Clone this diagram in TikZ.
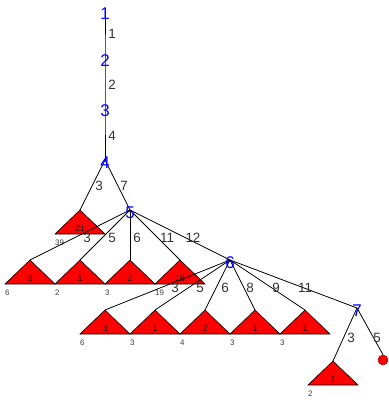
\documentclass[tikz,border=0pt]{standalone}
\usepackage{fontspec}
\setmainfont{Liberation Sans}
\begin{document}
\begin{tikzpicture}[x=1bp,y=-1bp,
  edge/.style={draw=black,line width=0.8bp},
  nlab/.style={text=blue,font=\fontsize{17}{17}\selectfont,inner sep=0pt},
  elab/.style={text=black!80,font=\fontsize{13.5}{13.5}\selectfont,inner sep=0pt},
  tlab/.style={text=black!90,font=\fontsize{9}{9}\selectfont,inner sep=0pt},
  blab/.style={text=black!75,font=\fontsize{8}{8}\selectfont,inner sep=0pt,anchor=west},
  tri/.style={fill=red,draw=black,line width=0.6bp,line join=miter}]
\useasboundingbox (0,0) rectangle (389,400);
% junction points
\coordinate (n1) at (105,8);
\coordinate (n2) at (105,60);
\coordinate (n3) at (105,110);
\coordinate (n4) at (105,160);
\coordinate (n5) at (130,210);
\coordinate (n6) at (230,260);
\coordinate (n7) at (357,308);
% triangle apexes
\coordinate (a21) at (80,210);
\coordinate (b1) at (30,260);
\coordinate (b2) at (80,260);
\coordinate (b3) at (130,260);
\coordinate (b4) at (180,260);
\coordinate (c1) at (105,310);
\coordinate (c2) at (155,310);
\coordinate (c3) at (205,310);
\coordinate (c4) at (255,310);
\coordinate (c5) at (305,310);
\coordinate (d1) at (333,361);
\coordinate (leaf) at (383,360);
% triangles
\foreach \a/\t/\b/\n in {a21/21/39/tA,b1/3/6/tB1,b2/1/2/tB2,b3/2/3/tB3,b4/18/19/tB4,c1/3/6/tC1,c2/1/3/tC2,c3/2/4/tC3,c4/1/3/tC4,c5/1/3/tC5,d1/1/2/tD}{
  \path[tri] (\a) -- ++(-25,24) -- ++(50,0) -- cycle;
  \node[tlab] (\n) at ([yshift=-18bp]\a) {\t};
  \node[blab] (\n b) at ([xshift=-25bp,yshift=-33bp]\a) {\b};
}
% edges
\draw[edge] (n1) -- (n2) -- (n3) -- (n4);
\draw[edge] (n4) -- (a21);
\draw[edge] (n4) -- (n5);
\foreach \t in {b1,b2,b3,b4,n6} \draw[edge] (n5) -- (\t);
\foreach \t in {c1,c2,c3,c4,c5,n7} \draw[edge] (n6) -- (\t);
\draw[edge] (n7) -- (d1);
\node[circle,fill=red,draw=red!60!black,line width=0.5bp,minimum size=10bp,inner sep=0pt] (lf) at (leaf) {};
\draw[edge] (n7) -- (lf.north);
% node labels
\node[nlab] (l1) at ([yshift=-6bp]n1) {1};
\node[nlab] (l2) at ([yshift=-1bp]n2) {2};
\node[nlab] (l3) at ([yshift=-1bp]n3) {3};
\node[nlab] (l4) at ([yshift=-3bp]n4) {4};
\node[nlab] (l5) at ([yshift=-3bp]n5) {5};
\node[nlab] (l6) at ([yshift=-3bp]n6) {6};
\node[nlab] (l7) at ([yshift=-3bp]n7) {7};
% edge labels
\node[elab] (e1) at (112,34) {1};
\node[elab] (e2) at (112,85) {2};
\node[elab] (e3) at (112,136) {4};
\node[elab] (e4) at (99,186) {3};
\node[elab] (e5) at (124,186) {7};
\node[elab] (e6) at (87,238) {3};
\node[elab] (e7) at (112,238) {5};
\node[elab] (e8) at (137,238) {6};
\node[elab] (e9) at (167,238) {11};
\node[elab] (e10) at (193,238) {12};
\node[elab] (e11) at (175,288) {3};
\node[elab] (e12) at (200,288) {5};
\node[elab] (e13) at (225,288) {6};
\node[elab] (e14) at (250,288) {8};
\node[elab] (e15) at (276,288) {9};
\node[elab] (e16) at (305,288) {11};
\node[elab] (e17) at (351,338) {3};
\node[elab] (e18) at (377,338) {5};
\end{tikzpicture}
\end{document}
